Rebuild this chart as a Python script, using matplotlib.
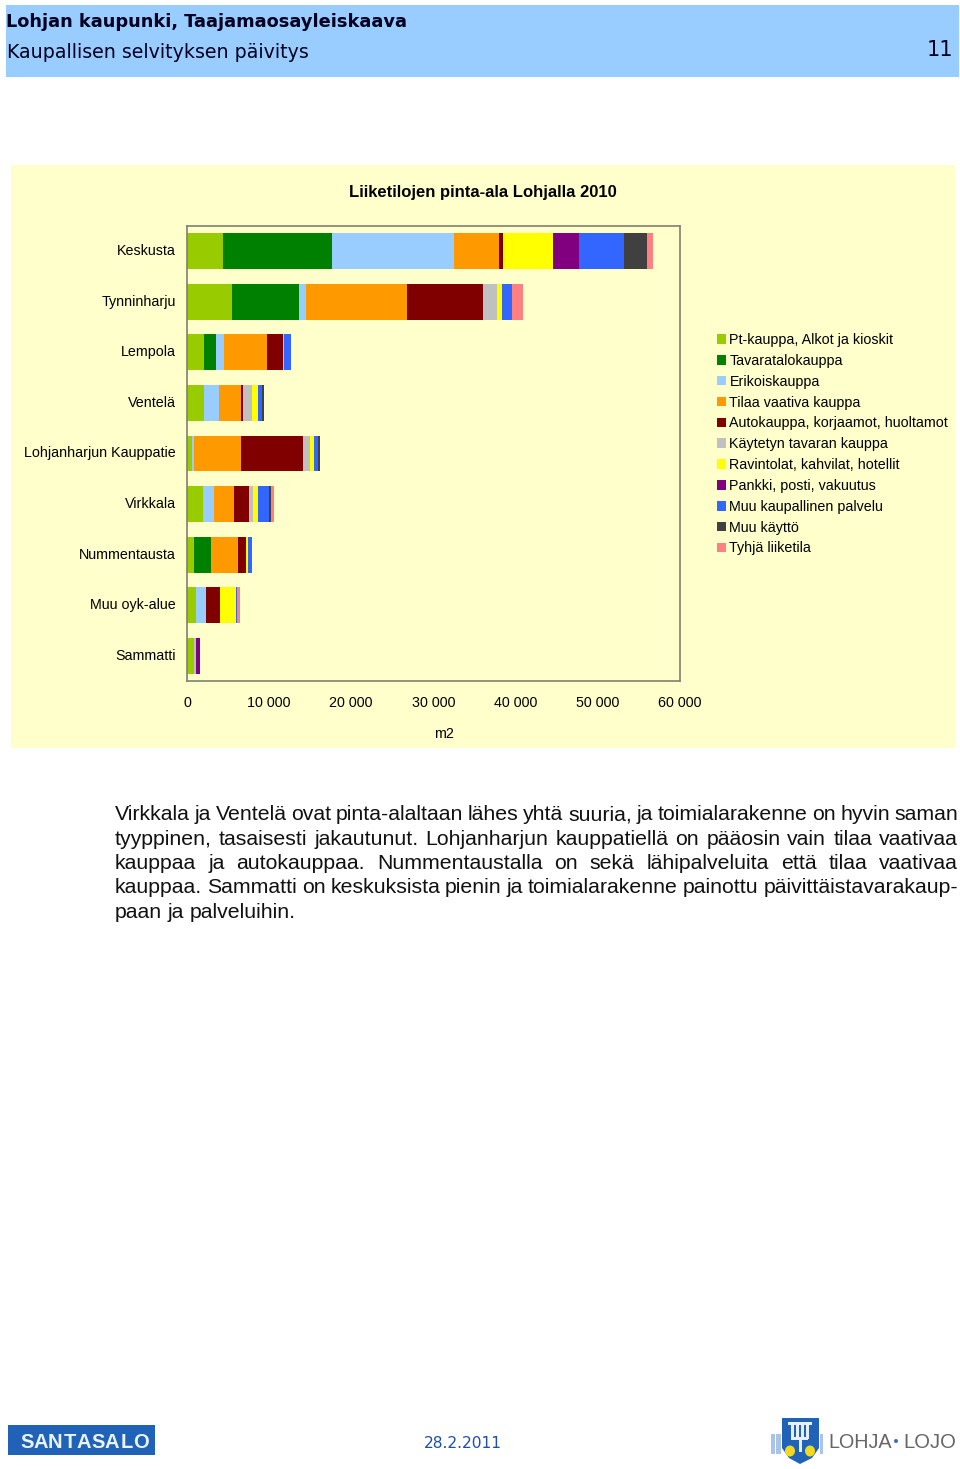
import matplotlib
matplotlib.use('Agg')
import matplotlib.pyplot as plt
from matplotlib.patches import Rectangle, Polygon, Ellipse
from matplotlib.transforms import ScaledTranslation
import numpy as np

W, H = 960, 1469
FONT = 'Liberation Sans'

places = ['Keskusta', 'Tynninharju', 'Lempola', 'Ventelä', 'Lohjanharjun Kauppatie',
          'Virkkala', 'Nummentausta', 'Muu oyk-alue', 'Sammatti']

# m2 per place
pt_kauppa = [4420, 5480, 2070, 2070, 610, 1990, 850, 1060, 820]
tavaratalo = [13280, 8120, 1460, 0, 0, 0, 2030, 0, 0]
erikois = [14820, 930, 1010, 1860, 240, 1340, 0, 1290, 0]
tilaa_vaativa = [5480, 12230, 5200, 2640, 5760, 2400, 3320, 0, 0]
autokauppa = [520, 9260, 1910, 240, 7510, 1830, 970, 1670, 0]
kaytetyn = [0, 1780, 160, 1100, 890, 520, 0, 0, 240]
ravintolat = [6090, 570, 0, 730, 450, 530, 240, 1910, 0]
pankki = [3170, 0, 0, 0, 0, 0, 0, 0, 490]
muu_palvelu = [5440, 1220, 890, 490, 490, 1410, 450, 160, 0]
muu_kaytto = [2760, 0, 0, 240, 200, 200, 0, 0, 0]
tyhja = [800, 1380, 0, 0, 0, 400, 0, 370, 0]

series = [pt_kauppa, tavaratalo, erikois, tilaa_vaativa, autokauppa, kaytetyn,
          ravintolat, pankki, muu_palvelu, muu_kaytto, tyhja]
labels = ['Pt-kauppa, Alkot ja kioskit', 'Tavaratalokauppa', 'Erikoiskauppa',
          'Tilaa vaativa kauppa', 'Autokauppa, korjaamot, huoltamot',
          'Käytetyn tavaran kauppa', 'Ravintolat, kahvilat, hotellit',
          'Pankki, posti, vakuutus', 'Muu kaupallinen palvelu', 'Muu käyttö',
          'Tyhjä liiketila']
colors = ['#99CC00', '#008000', '#99CCFF', '#FF9900', '#800000', '#C0C0C0',
          '#FFFF00', '#800080', '#3366FF', '#404040', '#FF8080']
xticks = [0, 10000, 20000, 30000, 40000, 50000, 60000]
xticklabels = ['0', '10 000', '20 000', '30 000', '40 000', '50 000', '60 000']

body = [
    'Virkkala ja Ventelä ovat pinta-alaltaan lähes yhtä suuria, ja toimialarakenne on hyvin saman',
    'tyyppinen, tasaisesti jakautunut. Lohjanharjun kauppatiellä on pääosin vain tilaa vaativaa',
    'kauppaa ja autokauppaa. Nummentaustalla on sekä lähipalveluita että tilaa vaativaa',
    'kauppaa. Sammatti on keskuksista pienin ja toimialarakenne painottu päivittäistavarakaup-',
    'paan ja palveluihin.',
]

plt.rcParams['font.family'] = [FONT, 'DejaVu Sans']
fig = plt.figure(figsize=(W / 100, H / 100), dpi=100, facecolor='white')


def fx(x):
    return x / W


def fy(y):
    return 1 - y / H


def box(x0, y0, x1, y1, color, zorder=0):
    fig.patches.append(Rectangle((fx(x0), fy(y1)), (x1 - x0) / W, (y1 - y0) / H,
                                 transform=fig.transFigure, color=color, lw=0, zorder=zorder))


def label(x, y, s, size, **kw):
    kw.setdefault('va', 'center')
    return fig.text(fx(x), fy(y), s, fontsize=size, **kw)


# page header and chart panel
box(6, 5, 959, 77, '#99CCFF')
box(11, 165, 955, 748, '#FFFFCC')
label(6, 22, 'Lohjan kaupunki, Taajamaosayleiskaava', 12.8, family='DejaVu Sans', weight='bold', color='#000020')
label(7, 52, 'Kaupallisen selvityksen päivitys', 13.7, family='DejaVu Sans', color='#000020')
label(940, 50, '11', 15, family='DejaVu Sans', ha='center', color='#000020')

label(483, 192, 'Liiketilojen pinta-ala Lohjalla 2010', 12, weight='bold', ha='center')

# chart
ax = fig.add_axes([fx(187), fy(681), (680 - 187) / W, (681 - 226) / H])
ax.set_zorder(5)
ax.set_facecolor('#FFFFCC')
y = np.arange(len(places))
left = np.zeros(len(places))
for vals, name, col in zip(series, labels, colors):
    ax.barh(y, vals, left=left, height=0.71, color=col, label=name, lw=0)
    left = left + np.array(vals)
ax.set_xlim(0, 60050)
ax.set_ylim(8.5, -0.5)
ax.set_yticks(y, places)
ax.set_xticks(xticks, xticklabels)
ax.tick_params(axis='both', length=0, labelsize=10.3, labelcolor='#000000')
ax.tick_params(axis='y', pad=8)
ax.tick_params(axis='x', pad=10.5)
shift_up = ScaledTranslation(0, 1.5 / 100, fig.dpi_scale_trans)
for t in ax.get_yticklabels():
    t.set_transform(t.get_transform() + shift_up)
for s in ax.spines.values():
    s.set_color('#808070')
    s.set_linewidth(1.2)
label(444, 734.5, 'm2', 10.3, ha='center')

handles = [Rectangle((0, 0), 1, 1, color=c, lw=0) for c in colors]
leg = fig.legend(handles, labels, loc='upper left', bbox_to_anchor=(fx(717), fy(333)),
                 bbox_transform=fig.transFigure, frameon=False, fontsize=10.27, borderpad=0,
                 borderaxespad=0, handlelength=0.66, handleheight=0.66, handletextpad=0.21,
                 labelspacing=0.48)
leg.set_zorder(6)

# justified text below the chart
fig.canvas.draw()
rend = fig.canvas.get_renderer()
line_y = [820.5, 844.7, 869, 893.2, 917.5]
for n, (line, yy) in enumerate(zip(body, line_y)):
    words = line.split(' ')
    parts = [label(115, yy, w, 15.3, color='#111111', va='baseline') for w in words]
    widths = [p.get_window_extent(rend).width for p in parts]
    gap = (958 - 115 - sum(widths)) / (len(words) - 1)
    if n == len(body) - 1:
        gap = 5.6
    x = 115
    for p, w in zip(parts, widths):
        p.set_x(fx(x))
        x += w + gap

# footer
label(463, 1444, '28.2.2011', 11.2, family='DejaVu Sans', ha='center', color='#1F4FA8')
box(8, 1425, 155, 1455, '#1F62B8')
for i, ch in enumerate('SANTASALO'):
    label(27 + i * 14.2, 1442, ch, 14.5, weight='bold', color='#EAF2FA', ha='center')

# Lohja logo
box(771, 1434, 775, 1454, '#A9C4E8', 1)
box(776, 1434, 781, 1454, '#A9C4E8', 1)
box(820, 1434, 823, 1454, '#A9C4E8', 1)
shield = [(782, 1418), (819, 1418), (819, 1448), (812, 1458), (800, 1464), (789, 1458), (782, 1448)]
fig.patches.append(Polygon([(fx(a), fy(b)) for a, b in shield], transform=fig.transFigure,
                           color='#1F62B8', lw=0, zorder=2))
box(788, 1422, 812, 1425, '#E8EEF6', 3)
for a in [791, 796, 801, 806]:
    box(a, 1425, a + 2.5, 1439, '#E8EEF6', 3)
box(791, 1437, 808, 1440, '#E8EEF6', 3)
box(799, 1440, 801.5, 1452, '#E8EEF6', 3)
for a in [790, 810]:
    fig.patches.append(Ellipse((fx(a), fy(1451)), 10 / W, 11 / H, transform=fig.transFigure,
                               color='#F2D91F', lw=0, zorder=3))
label(828, 1442, 'LOHJA', 14.2, color='#666666')
fig.patches.append(Ellipse((fx(896), fy(1441)), 4 / W, 4 / H, transform=fig.transFigure,
                           color='#3A6FC0', lw=0, zorder=3))
label(903, 1442, 'LOJO', 14.6, color='#666666')

fig.savefig('out.png', dpi=100, facecolor='white')
